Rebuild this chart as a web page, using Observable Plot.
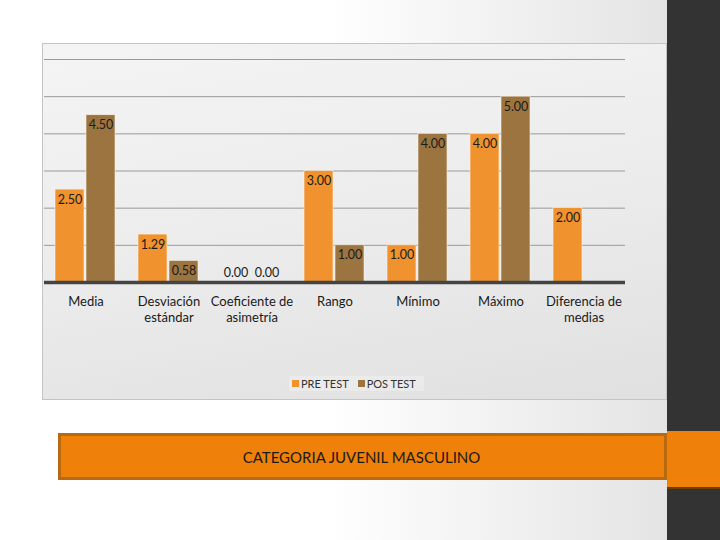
<!DOCTYPE html>
<html>
<head>
<meta charset="utf-8">
<script src="https://cdn.jsdelivr.net/npm/d3@7"></script>
<script src="https://cdn.jsdelivr.net/npm/@observablehq/plot@0.6"></script>
<style>
  html, body { margin: 0; padding: 0; }
  #page { position: relative; width: 720px; height: 540px; overflow: hidden;
    background: linear-gradient(to right, #ffffff 45%, #e4e4e4 93%); font-family: Lato, "Open Sans", sans-serif; }
  #frame { position: absolute; left: 42px; top: 43px; width: 625px; height: 357px; box-sizing: border-box;
    border: 1px solid #c4c4c4; background: linear-gradient(170deg, #f4f4f4 0%, #ececec 50%, #e0e0e0 100%); }
  #chart { position: absolute; left: 0; top: 0; }
  #legend { position: absolute; top: 376px; left: 289px; display: flex; align-items: center; gap: 4px;
    font-size: 11px; color: #333; padding: 1px 3px; background: rgba(255,255,255,0.25); }
  #legend .sw { display: inline-block; width: 7px; height: 7px; margin-right: 2px; }
  #legend .item { display: flex; align-items: center; margin-right: 5px; }
  #titlebox { position: absolute; left: 58px; top: 433px; width: 609px; height: 47px; box-sizing: border-box;
    background: #ef8009; border: 3px solid #b9690f; display: flex; align-items: center; justify-content: center;
    font-size: 15px; color: #1a1a1a; padding-right: 2px; }
  #darkbar { position: absolute; left: 667px; top: 0; width: 53px; height: 540px; background: #333333; }
  #strip { position: absolute; left: 667px; top: 431px; width: 53px; height: 56px; background: #ef8009;
    border-bottom: 2px solid #6b3f0c; }
</style>
</head>
<body>
<div id="page">
  <div id="frame"></div>
  <div id="chart"></div>
  <div id="legend"></div>
  <div id="darkbar"></div>
  <div id="strip"></div>
  <div id="titlebox">CATEGORIA JUVENIL MASCULINO</div>
</div>
<script>
const categories = ["Media", "Desviación estándar", "Coeficiente de asimetría", "Rango", "Mínimo", "Máximo", "Diferencia de medias"];
const tickLabels = ["Media", "Desviación\nestándar", "Coeficiente de\nasimetría", "Rango", "Mínimo", "Máximo", "Diferencia de\nmedias"];
const series = ["PRE TEST", "POS TEST"];
const seriesColors = ["#F0922E", "#9C7440"];
const preValues = [2.50, 1.29, 0.00, 3.00, 1.00, 4.00, 2.00];
const posValues = [4.50, 0.58, 0.00, 1.00, 4.00, 5.00, null];
const gridTicks = [1, 2, 3, 4, 5, 6];

const data = categories.flatMap((c, i) => [
  {cat: c, s: series[0], v: preValues[i]},
  {cat: c, s: series[1], v: posValues[i]}
]).filter(d => d.v != null);

const chart = Plot.plot({
  width: 720,
  height: 340,
  marginLeft: 41,
  marginRight: 92,
  marginTop: 59,
  marginBottom: 58,
  style: {background: "transparent", fontFamily: "Lato, 'Open Sans', sans-serif", overflow: "visible"},
  fx: {domain: categories, padding: 0, label: null},
  x: {domain: series, paddingInner: 0.05, paddingOuter: 0.35, axis: null},
  y: {domain: [0, 6], axis: null},
  color: {domain: series, range: seriesColors},
  marks: [
    Plot.ruleY(gridTicks, {stroke: "#9a9a9a", strokeWidth: 1}),
    Plot.barY(data, {fx: "cat", x: "s", y: "v", fill: "s", stroke: "#fbf3e8", strokeWidth: 0.6}),
    Plot.ruleY([0], {stroke: "#444444", strokeWidth: 3.5}),
    Plot.text(data.filter(d => d.v > 0), {fx: "cat", x: "s", y: "v", text: d => d.v.toFixed(2), dy: 10, fontSize: 12.5, fill: "#1b1b1b"}),
    Plot.text(data.filter(d => d.v === 0), {fx: "cat", x: "s", y: "v", text: d => d.v.toFixed(2), dy: -10, fontSize: 12.5, fill: "#1b1b1b"}),
    Plot.axisFx({anchor: "bottom", tickSize: 0, tickPadding: 11, fontSize: 13, lineHeight: 1.3, label: null,
      fill: "#1a1a1a", tickFormat: c => tickLabels[categories.indexOf(c)]})
  ]
});
document.getElementById("chart").appendChild(chart);

const legend = document.getElementById("legend");
series.forEach((s, i) => {
  const item = document.createElement("span");
  item.className = "item";
  const sw = document.createElement("span");
  sw.className = "sw";
  sw.style.background = seriesColors[i];
  item.appendChild(sw);
  item.appendChild(document.createTextNode(s));
  legend.appendChild(item);
});
</script>
</body>
</html>
